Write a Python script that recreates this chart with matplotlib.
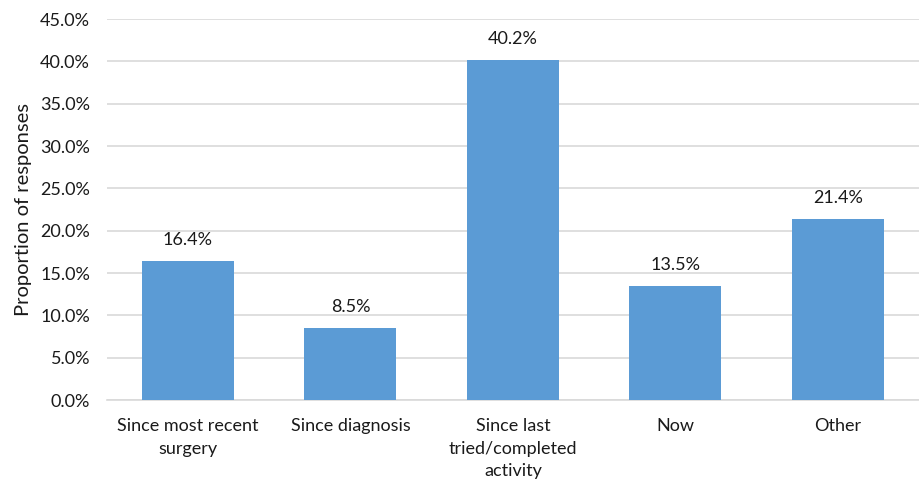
import matplotlib
matplotlib.use("Agg")
import matplotlib.pyplot as plt
from matplotlib.ticker import FuncFormatter, MultipleLocator

categories = ["Since most recent\nsurgery", "Since diagnosis",
              "Since last\ntried/completed\nactivity", "Now", "Other"]
values = [16.4, 8.5, 40.2, 13.5, 21.4]

plt.rcParams['font.family'] = ['Lato', 'DejaVu Sans']

fig = plt.figure(figsize=(9.2, 4.82), dpi=100)
ax = fig.add_axes([0.116, 0.170, 0.883, 0.7905])

x = range(len(categories))
ax.bar(x, values, width=0.566, color="#5B9BD5", zorder=3)

for xi, v in zip(x, values):
    ax.text(xi, v + 1.5, f"{v:.1f}%", ha="center", va="bottom", fontsize=13, color="#1a1a1a")

ax.set_ylim(0, 45)
ax.set_xlim(-0.5, len(categories) - 0.5)
ax.yaxis.set_major_locator(MultipleLocator(5))
ax.yaxis.set_major_formatter(FuncFormatter(lambda v, p: f"{v:.1f}%"))
ax.grid(axis="y", color="#d9d9d9", linewidth=1.2, zorder=0)
for s in ["top", "right", "left"]:
    ax.spines[s].set_visible(False)
ax.spines["bottom"].set_color("#d9d9d9")
ax.spines["bottom"].set_linewidth(1.2)
ax.tick_params(axis="both", length=0, labelsize=13, colors="#1a1a1a")
ax.tick_params(axis="y", pad=12)
ax.tick_params(axis="x", pad=13)
ax.set_xticks(list(x))
ax.set_xticklabels(categories, linespacing=1.5)
ax.set_ylabel("Proportion of responses", fontsize=14.5, color="#1a1a1a", labelpad=6)

fig.savefig("out.png", dpi=100)
